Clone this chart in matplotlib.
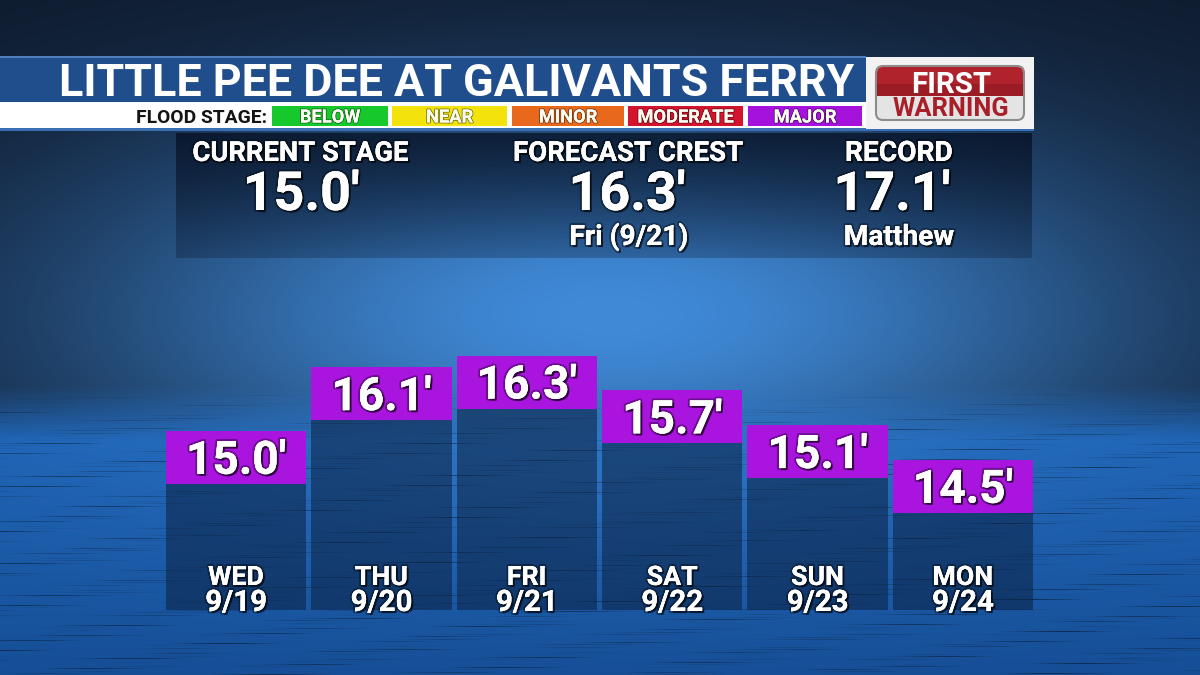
import numpy as np
import matplotlib
matplotlib.use("Agg")
import matplotlib.pyplot as plt
import matplotlib.patheffects as pe
from matplotlib.patches import Rectangle, FancyBboxPatch

# ---- data ----
days = ["WED", "THU", "FRI", "SAT", "SUN", "MON"]
dates = ["9/19", "9/20", "9/21", "9/22", "9/23", "9/24"]
stage = [15.0, 16.1, 16.3, 15.7, 15.1, 14.5]

title = "LITTLE PEE DEE AT GALIVANTS FERRY"
legend_names = ["BELOW", "NEAR", "MINOR", "MODERATE", "MAJOR"]
legend_colors = ["#16c82c", "#f3e20c", "#e8691c", "#d4132c", "#a512dc"]
info_heads = ["CURRENT STAGE", "FORECAST CREST", "RECORD"]
info_vals = ["15.0'", "16.3'", "17.1'"]
info_subs = ["", "Fri (9/21)", "Matthew"]

FONT = "Roboto"
W, H = 1200, 675
fig = plt.figure(figsize=(12, 6.75), dpi=100)
r = fig.canvas.get_renderer()
PX = fig.dpi / 72.0


def fit(t, w, cap):
    bb = t.get_window_extent(r)
    fs = t.get_fontsize() * w / bb.width
    fs = min(fs, cap / 0.711 / PX)
    t.set_fontsize(fs)
    return t


shadow = [pe.withStroke(linewidth=3, foreground=(0, 0, 0, 0.35)),
          pe.withSimplePatchShadow(offset=(1.5, -1.5), shadow_rgbFace="k", alpha=0.55),
          pe.Normal()]

# ---- background: dark corners, bright glow, water texture below ----
bg = fig.add_axes([0, 0, 1, 1], zorder=0)
yy, xx = np.mgrid[0:H, 0:W].astype(float)
dark = np.array([14, 26, 44]) / 255.0
glowcol = np.array([64, 138, 216]) / 255.0
g = np.exp(-(((xx - 610) / 560) ** 2 + ((yy - 315) / 205) ** 2))[..., None]
img = dark * (1 - g) + glowcol * g

t_w = np.clip((yy - 385) / 55, 0, 1)[..., None]
depth = np.clip((yy - 420) / 255, 0, 1)[..., None]
watercol = np.array([30, 100, 182]) / 255.0 * (1 - depth) + np.array([22, 78, 150]) / 255.0 * depth
centre = np.exp(-(((xx - 600) / 450) ** 2) - ((yy - 420) / 140) ** 2)[..., None]
watercol = watercol * (1 - 0.5 * centre) + glowcol * 0.5 * centre
phase = yy * 1.25 + 1.2 * np.sin(xx / 230.0 + yy / 45.0)
band = np.cos(phase) ** 16
mod = np.clip(np.sin(xx / 41.0 + yy * 0.37) * np.sin(xx / 127.0 - yy * 0.21), 0, 1)
dim = (1 - 0.45 * band * mod)[..., None]
img = img * (1 - t_w) + watercol * dim * t_w
bg.imshow(np.clip(img, 0, 1), extent=[0, W, H, 0], aspect="auto")
bg.set_xlim(0, W)
bg.set_ylim(H, 0)
bg.axis("off")

# ---- bar chart ----
bot_px, top_px = 610, 340
ax = fig.add_axes([166 / W, (H - bot_px) / H, (1033 - 166) / W, (bot_px - top_px) / H], zorder=1)
ax.patch.set_alpha(0)
base = 11.906
cap = 0.915
x = np.arange(len(stage))
vals = np.array(stage)
ax.bar(x, vals - base, bottom=base, width=0.964, color="#0b2142", alpha=0.55, linewidth=0)
ax.bar(x, cap, bottom=vals - cap, width=0.964, color="#a914df", linewidth=0)
ax.set_xlim(-0.482, 5.482)
ax.set_ylim(base, 16.569)
ax.axis("off")
for i, v in enumerate(stage):
    t = ax.text(i, v - cap / 2 - 0.285, f"{v:.1f}'", ha="center", va="baseline",
                color="white", fontweight="bold", family=FONT, fontsize=30,
                path_effects=shadow)
    fit(t, 100, 33)
    ax.text(i, (bot_px - 585) / (bot_px - top_px), days[i], transform=ax.get_xaxis_transform(),
            ha="center", va="baseline", color="white", fontweight="bold", family=FONT,
            fontsize=19 / 0.711 / PX, path_effects=shadow)
    ax.text(i, (bot_px - 611) / (bot_px - top_px), dates[i], transform=ax.get_xaxis_transform(),
            ha="center", va="baseline", color="white", fontweight="bold", family=FONT,
            fontsize=21 / 0.711 / PX, path_effects=shadow)

# ---- overlay (header, info panel) in pixel coords ----
ov = fig.add_axes([0, 0, 1, 1], zorder=2)
ov.patch.set_alpha(0)
ov.set_xlim(0, W)
ov.set_ylim(H, 0)
ov.axis("off")

# info panel
grad = np.zeros((100, 2, 4))
grad[..., 0], grad[..., 1], grad[..., 2] = 5 / 255, 14 / 255, 32 / 255
grad[..., 3] = np.linspace(0.72, 0.25, 100)[:, None]
ov.imshow(grad, extent=[176, 1032, 258, 133], aspect="auto", zorder=1)

# title bar
ov.add_patch(Rectangle((0, 57), 866, 46, fc="#204e8d", ec="none", zorder=2))
ov.add_patch(Rectangle((0, 56), 866, 2, fc="#4f7fbf", ec="none", zorder=3))
ov.add_patch(Rectangle((0, 102), 866, 26, fc="white", ec="none", zorder=2))
ov.add_patch(Rectangle((0, 128), 1034, 2.5, fc="#3a6fb3", ec="none", zorder=2))
t = ov.text(457, 96, title, ha="center", va="baseline", color="white",
            fontweight="bold", family=FONT, fontsize=30, zorder=4)
fit(t, 795, 34)

t = ov.text(267, 123, "FLOOD STAGE:", ha="right", va="baseline", color="#141414",
            fontweight="bold", family=FONT, fontsize=12, zorder=4)
fit(t, 131, 14)
lx = [272, 392, 512, 628, 748]
lw = [116, 115, 112, 115, 114]
for name, col, x0, w0 in zip(legend_names, legend_colors, lx, lw):
    ov.add_patch(Rectangle((x0, 106), w0, 20, fc=col, ec="none", zorder=3))
    edge = "#7a7a10" if name == "NEAR" else (0, 0, 0, 0.45)
    ov.text(x0 + w0 / 2, 122.5, name, ha="center", va="baseline", color="#fbfbf0",
            fontweight="bold", family=FONT, fontsize=13 / 0.711 / PX, zorder=4,
            path_effects=[pe.withStroke(linewidth=1.4, foreground=edge), pe.Normal()])

# logo
ov.add_patch(Rectangle((866, 57), 168, 72, fc="#f2f2f2", ec="none", zorder=2))
ov.add_patch(FancyBboxPatch((876, 66), 148, 54, boxstyle="round,pad=0,rounding_size=7",
                            fc="#e4e4e4", ec="#8c8c8c", lw=1.5, zorder=3))
ov.add_patch(FancyBboxPatch((877, 67), 146, 29, boxstyle="round,pad=0,rounding_size=6",
                            fc="#b0222c", ec="none", zorder=3))
ov.add_patch(Rectangle((877, 84), 146, 12, fc="#9c1c25", ec="none", zorder=3))
t = ov.text(951, 93, "FIRST", ha="center", va="baseline", color="white",
            fontweight="bold", family=FONT, fontsize=20, zorder=4)
fit(t, 90, 21)
t = ov.text(951, 116.5, "WARNING", ha="center", va="baseline", color="#a81f29",
            fontweight="bold", family=FONT, fontsize=18, zorder=4)
fit(t, 117, 19)

# info texts
hx = [300, 628, 899]
vx = [301, 627, 892]
sx = [300, 629, 899]
hw = [216, 230, 108]
sw = [0, 136, 125]
for i in range(3):
    t = ov.text(hx[i], 161, info_heads[i], ha="center", va="baseline", color="white",
                fontweight="bold", family=FONT, fontsize=18, zorder=4, path_effects=shadow)
    fit(t, hw[i], 20)
    t = ov.text(vx[i], 210, info_vals[i], ha="center", va="baseline", color="white",
                fontweight="bold", family=FONT, fontsize=36, zorder=4, path_effects=shadow)
    fit(t, 117, 39)
    if info_subs[i]:
        t = ov.text(sx[i], 245, info_subs[i], ha="center", va="baseline", color="white",
                    fontweight="bold", family=FONT, fontsize=18, zorder=4, path_effects=shadow)
        fit(t, sw[i], 20)

fig.savefig("out.png", dpi=100)
